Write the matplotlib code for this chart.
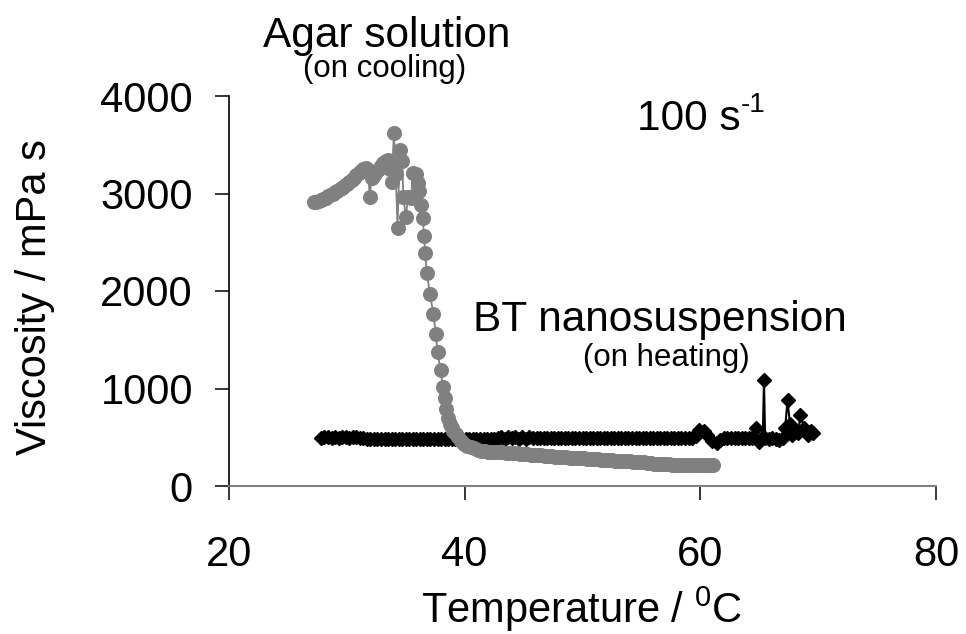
#!/usr/bin/env python3

import matplotlib
matplotlib.use("Agg")

import matplotlib.pyplot as plt

plt.rcParams['font.family'] = ['Liberation Sans', 'DejaVu Sans']

# Agar solution (on cooling): temperature / C, viscosity / mPa s
agar_t = [27.2, 27.4, 27.6, 27.8, 28.0, 28.2, 28.4, 28.6, 28.8, 29.0,
          29.2, 29.4, 29.6, 29.8, 30.0, 30.2, 30.4, 30.6, 30.8, 31.0,
          31.2, 31.4, 31.6, 31.8, 31.95, 32.1, 32.3, 32.5, 32.7, 32.9,
          33.1, 33.3, 33.5, 33.65, 33.8, 34.0, 34.15, 34.3, 34.5, 34.7,
          34.8, 35.0, 35.2, 35.45, 35.6, 35.9, 36.0, 36.15, 36.3, 36.45,
          36.55, 36.65, 36.8, 37.05, 37.35, 37.55, 37.7, 37.95, 38.15, 38.3,
          38.45, 38.6, 38.75, 38.9, 39.05, 39.25, 39.45, 39.7, 39.95, 40.2,
          40.5, 40.8, 41.1, 41.4, 41.7, 42.0,
          42.3, 42.6, 42.9, 43.2, 43.5, 43.8, 44.1, 44.4, 44.7, 45.0,
          45.3, 45.6, 45.9, 46.2, 46.5, 46.8, 47.1, 47.4, 47.7, 48.0,
          48.3, 48.6, 48.9, 49.2, 49.5, 49.8, 50.1, 50.4, 50.7, 51.0,
          51.3, 51.6, 51.9, 52.2, 52.5, 52.8, 53.1, 53.4, 53.7, 54.0,
          54.3, 54.6, 54.9, 55.2, 55.5, 55.8, 56.1, 56.4, 56.7, 57.0,
          57.3, 57.6, 57.9, 58.2, 58.5, 58.8, 59.1, 59.4, 59.7, 60.0,
          60.3, 60.6, 60.9, 61.1]
agar_v = [2910, 2915, 2925, 2935, 2945, 2955, 2970, 2985, 3000, 3015,
          3030, 3045, 3060, 3080, 3095, 3115, 3135, 3160, 3185, 3210,
          3235, 3255, 3260, 3240, 2960, 3160, 3190, 3220, 3250, 3280,
          3310, 3335, 3340, 3250, 3120, 3620, 3200, 2650, 3450, 3330,
          2960, 2760, 2960, 2950, 3210, 3200, 3110, 3030, 2880, 2750,
          2560, 2390, 2180, 1970, 1765, 1560, 1375, 1190, 1015, 900,
          790, 700, 640, 600, 565, 530, 500, 465, 435, 415,
          400, 385, 372, 362, 355, 350,
          348, 346, 345, 344, 342, 340, 338, 336, 333, 330,
          326, 322, 318, 316, 314, 311, 308, 305, 302, 299,
          296, 293, 291, 289, 287, 285, 283, 281, 279, 276,
          273, 270, 267, 264, 262, 260, 258, 256, 254, 252,
          250, 248, 245, 242, 238, 234, 230, 227, 224, 222,
          221, 220, 219, 218, 218, 217, 217, 216, 216, 215,
          215, 215, 214, 214]

# BT nanosuspension (on heating)
bt_t = [27.8, 28.1, 28.4, 28.7, 29.0, 29.3, 29.6, 29.9, 30.2, 30.5,
        30.8, 31.1, 31.4, 31.7, 32.0, 32.3, 32.6, 32.9, 33.2, 33.5,
        33.8, 34.1, 34.4, 34.7, 35.0, 35.3, 35.6, 35.9, 36.2, 36.5,
        36.8, 37.1, 37.4, 37.7, 38.0, 38.3, 38.6, 38.9, 39.2, 39.5,
        39.8, 40.1, 40.4, 40.7, 41.0, 41.3, 41.6, 41.9, 42.2, 42.5,
        42.8, 43.1, 43.4, 43.7, 44.0, 44.3, 44.6, 44.9, 45.2, 45.5,
        45.8, 46.1, 46.4, 46.7, 47.0, 47.3, 47.6, 47.9, 48.2, 48.5,
        48.8, 49.1, 49.4, 49.7, 50.0, 50.3, 50.6, 50.9, 51.2, 51.5,
        51.8, 52.1, 52.4, 52.7, 53.0, 53.3, 53.6, 53.9, 54.2, 54.5,
        54.8, 55.1, 55.4, 55.7, 56.0, 56.3, 56.6, 56.9, 57.2, 57.5,
        57.8, 58.1, 58.4, 58.7, 59.0, 59.3, 59.6, 59.9, 60.3, 60.6,
        61.0, 61.4, 61.7, 62.0, 62.3, 62.6, 62.9, 63.2, 63.5, 63.8,
        64.1, 64.4, 64.7, 65.0, 65.3, 65.4, 65.5, 65.8, 66.1, 66.4,
        66.7, 67.0, 67.2, 67.4, 67.6, 67.8, 68.1, 68.3, 68.5, 68.8,
        69.1, 69.4, 69.6]
bt_v = [495, 500, 498, 497, 500, 496, 498, 499, 497, 500,
        498, 496, 492, 480, 478, 479, 477, 480, 478, 479,
        478, 480, 477, 479, 478, 480, 478, 477, 479, 478,
        480, 477, 479, 478, 480, 479, 477, 478, 480, 478,
        477, 479, 478, 480, 477, 479, 478, 480, 478, 480,
        490, 505, 485, 503, 488, 500, 482, 502, 487, 499,
        490, 492, 489, 491, 490, 493, 488, 490, 492, 489,
        491, 490, 488, 492, 490, 489, 491, 490, 493, 489,
        490, 491, 489, 492, 490, 488, 491, 490, 492, 489,
        490, 491, 490, 489, 492, 490, 491, 489, 490, 492,
        490, 489, 491, 490, 492, 495, 510, 575, 560, 520,
        460, 445, 470, 490, 495, 492, 490, 493, 491, 490,
        492, 495, 600, 450, 500, 1085, 495, 480, 490, 485,
        470, 490, 600, 880, 640, 520, 560, 540, 730, 600,
        520, 560, 540]

x_ticks = [20, 40, 60, 80]
y_ticks = [0, 1000, 2000, 3000, 4000]

W, H = 966, 634
fig = plt.figure(figsize=(W / 100, H / 100), dpi=100)
ax = fig.add_axes([229 / W, 1 - 486 / H, 707 / W, 390 / H])

ax.plot(bt_t, bt_v, color="black", lw=1.5, marker="D", ms=7.3,
        mec="black", mfc="black", zorder=2)
ax.plot(agar_t, agar_v, color="#808080", lw=1.3, marker="o", ms=9.8,
        mec="#808080", mfc="#808080", zorder=3)

ax.set_xlim(20, 80)
ax.set_ylim(0, 4000)
ax.set_xticks(x_ticks)
ax.set_yticks(y_ticks)
ax.spines["top"].set_visible(False)
ax.spines["right"].set_visible(False)
ax.spines["left"].set_linewidth(1.2)
ax.spines["bottom"].set_color("#808080")
ax.spines["bottom"].set_linewidth(1.5)
ax.tick_params(axis="both", direction="out", length=10, width=1.1,
               labelsize=30, color="black")
ax.tick_params(axis="x", pad=25)
ax.tick_params(axis="y", pad=16)

def px(x, y):
    return x / W, 1 - y / H

fig.text(*px(387, 47), "Agar solution", fontsize=30.5, ha="center", va="baseline")
fig.text(*px(385, 77), "(on cooling)", fontsize=22.5, ha="center", va="baseline")
fig.text(*px(637, 130), "100 s", fontsize=30.5, ha="left", va="baseline")
fig.text(*px(741, 112), "-1", fontsize=20, ha="left", va="baseline")
fig.text(*px(660, 331), "BT nanosuspension", fontsize=30.5, ha="center", va="baseline")
fig.text(*px(666, 366), "(on heating)", fontsize=22.5, ha="center", va="baseline")
fig.text(*px(582, 623), "Temperature / $\\mathregular{^{0}}$C", fontsize=30,
         ha="center", va="baseline")
fig.text(*px(46, 297), "Viscosity / mPa s", fontsize=30, rotation=90,
         rotation_mode="anchor", ha="center", va="baseline")

fig.savefig("out.png", dpi=100)
